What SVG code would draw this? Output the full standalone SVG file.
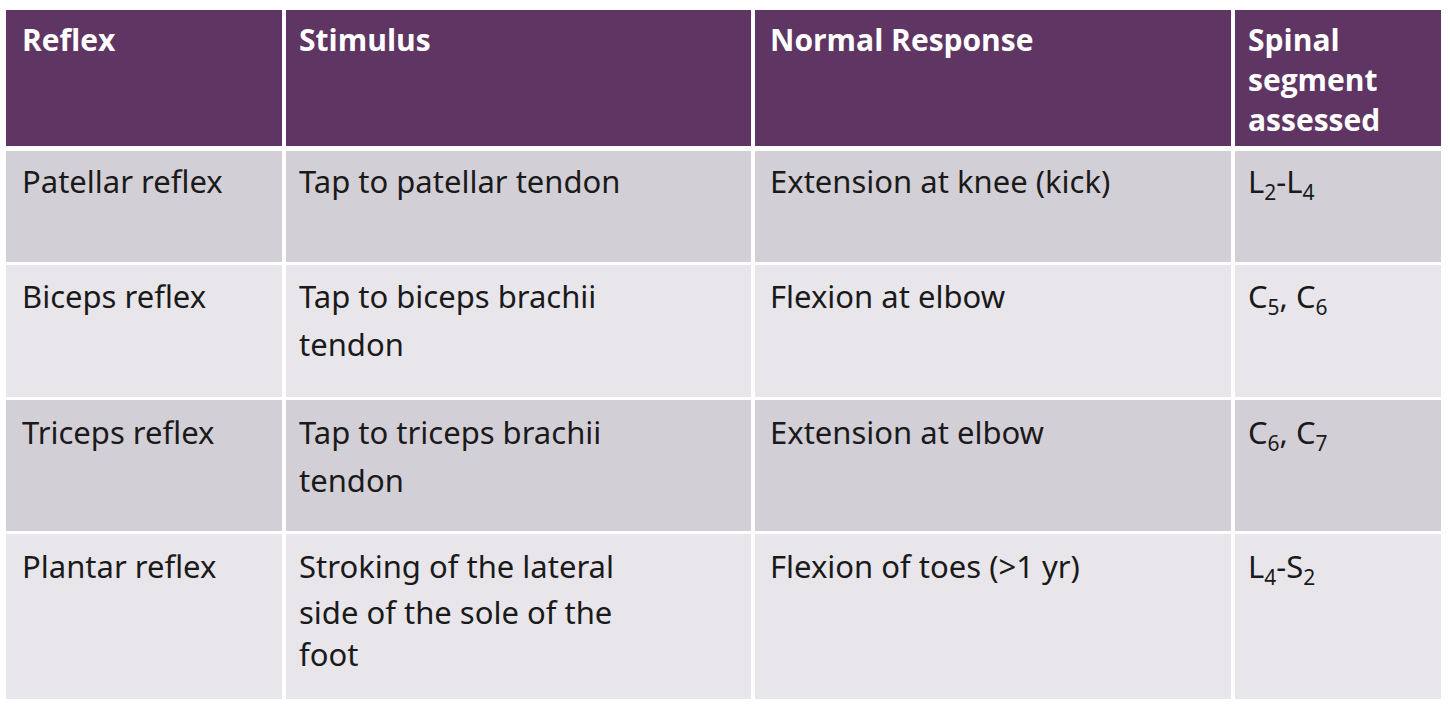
<svg xmlns="http://www.w3.org/2000/svg" width="1450" height="708" viewBox="0 0 1450 708">
<style>
.h{fill:#5f3563}.a{fill:#d3cfd6}.b{fill:#e8e6ea}
.ht{font-family:"Open Sans",sans-serif;font-weight:bold;font-size:30px;fill:#fff}
.t{font-family:"Noto Sans",sans-serif;font-size:31px;fill:#1a1a1a}
.s{font-size:21px}
</style>
<rect width="1450" height="708" fill="#fff"/>
<g id="header">
<rect class="h" x="6" y="10" width="276" height="136"/><rect class="h" x="286" y="10" width="465" height="136"/><rect class="h" x="755" y="10" width="476" height="136"/><rect class="h" x="1235" y="10" width="206" height="136"/>
<text class="ht" x="22" y="51">Reflex</text><text class="ht" x="299" y="51">Stimulus</text><text class="ht" x="770" y="51">Normal Response</text>
<text class="ht" x="1248" y="51">Spinal</text><text class="ht" x="1248" y="91">segment</text><text class="ht" x="1248" y="131">assessed</text>
</g>
<g id="row1">
<rect class="a" x="6" y="151" width="276" height="111"/><rect class="a" x="286" y="151" width="465" height="111"/><rect class="a" x="755" y="151" width="476" height="111"/><rect class="a" x="1235" y="151" width="206" height="111"/>
<text class="t" x="22" y="193">Patellar reflex</text><text class="t" x="299" y="193">Tap to patellar tendon</text><text class="t" x="770" y="193">Extension at knee (kick)</text>
<text class="t" x="1248" y="193">L<tspan class="s" dy="7">2</tspan><tspan dy="-7">-L</tspan><tspan class="s" dy="7">4</tspan></text>
</g>
<g id="row2">
<rect class="b" x="6" y="265" width="276" height="132"/><rect class="b" x="286" y="265" width="465" height="132"/><rect class="b" x="755" y="265" width="476" height="132"/><rect class="b" x="1235" y="265" width="206" height="132"/>
<text class="t" x="22" y="308">Biceps reflex</text><text class="t" x="299" y="308">Tap to biceps brachii</text><text class="t" x="299" y="356">tendon</text><text class="t" x="770" y="308">Flexion at elbow</text>
<text class="t" x="1248" y="308">C<tspan class="s" dy="7">5</tspan><tspan dy="-7">, C</tspan><tspan class="s" dy="7">6</tspan></text>
</g>
<g id="row3">
<rect class="a" x="6" y="400" width="276" height="131"/><rect class="a" x="286" y="400" width="465" height="131"/><rect class="a" x="755" y="400" width="476" height="131"/><rect class="a" x="1235" y="400" width="206" height="131"/>
<text class="t" x="22" y="444">Triceps reflex</text><text class="t" x="299" y="444">Tap to triceps brachii</text><text class="t" x="299" y="492">tendon</text><text class="t" x="770" y="444">Extension at elbow</text>
<text class="t" x="1248" y="444">C<tspan class="s" dy="7">6</tspan><tspan dy="-7">, C</tspan><tspan class="s" dy="7">7</tspan></text>
</g>
<g id="row4">
<rect class="b" x="6" y="534" width="276" height="165"/><rect class="b" x="286" y="534" width="465" height="165"/><rect class="b" x="755" y="534" width="476" height="165"/><rect class="b" x="1235" y="534" width="206" height="165"/>
<text class="t" x="22" y="578">Plantar reflex</text><text class="t" x="299" y="578">Stroking of the lateral</text><text class="t" x="299" y="624">side of the sole of the</text><text class="t" x="299" y="666">foot</text><text class="t" x="770" y="578">Flexion of toes (&gt;1 yr)</text>
<text class="t" x="1248" y="578">L<tspan class="s" dy="7">4</tspan><tspan dy="-7">-S</tspan><tspan class="s" dy="7">2</tspan></text>
</g>
</svg>
